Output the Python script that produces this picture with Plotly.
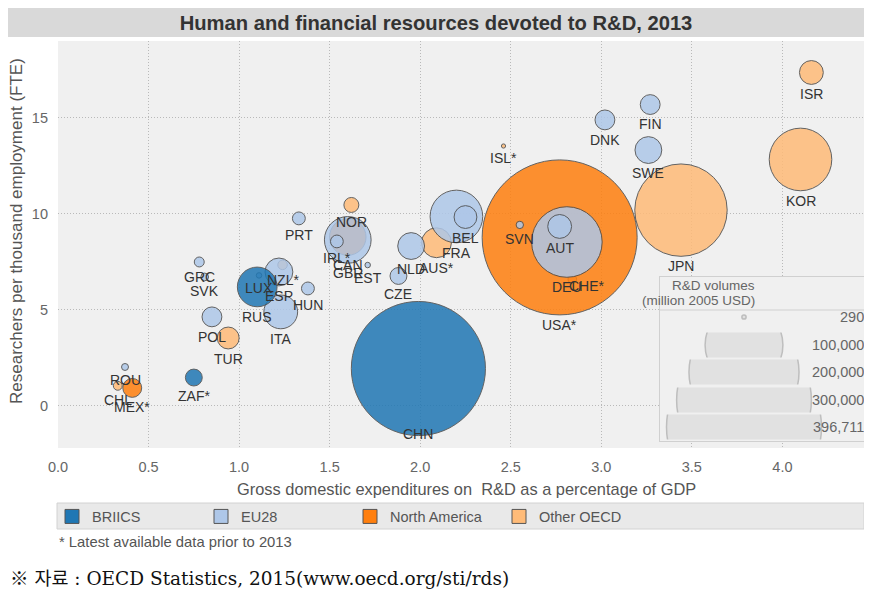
import math
import plotly.graph_objects as go

# ---------------- data ----------------
countries = ["CHN", "RUS", "ZAF*",
             "FIN", "DNK", "SWE", "BEL", "FRA", "SVN", "AUT", "DEU", "NLD", "CZE",
             "GBR", "IRL*", "EST", "PRT", "HUN", "ESP", "ITA", "LUX", "GRC", "SVK",
             "POL", "ROU",
             "USA*", "CAN", "MEX*",
             "ISR", "KOR", "JPN", "CHE*", "NOR", "AUS*", "NZL*", "TUR", "CHL", "ISL*"]
regions = ["BRIICS", "BRIICS", "BRIICS",
           "EU28", "EU28", "EU28", "EU28", "EU28", "EU28", "EU28", "EU28", "EU28", "EU28",
           "EU28", "EU28", "EU28", "EU28", "EU28", "EU28", "EU28", "EU28", "EU28", "EU28",
           "EU28", "EU28",
           "North America", "North America", "North America",
           "Other OECD", "Other OECD", "Other OECD", "Other OECD", "Other OECD",
           "Other OECD", "Other OECD", "Other OECD", "Other OECD", "Other OECD"]
gerd_pct = [1.99, 1.10, 0.75,
            3.27, 3.02, 3.26, 2.25, 2.20, 2.55, 2.77, 2.81, 1.95, 1.88,
            1.60, 1.54, 1.71, 1.33, 1.38, 1.22, 1.23, 1.11, 0.78, 0.81,
            0.85, 0.37,
            2.77, 1.60, 0.41,
            4.16, 4.10, 3.44, 2.84, 1.62, 2.09, 1.24, 0.94, 0.33, 2.46]
researchers = [1.95, 6.20, 1.48,
               15.70, 14.90, 13.33, 9.84, 9.87, 9.43, 9.35, 8.54, 8.33, 6.77,
               8.65, 8.57, 7.34, 9.77, 6.12, 6.98, 4.90, 6.80, 7.50, 6.72,
               4.64, 2.03,
               8.78, 8.80, 0.94,
               17.37, 12.84, 10.20, 6.60, 10.47, 8.50, 7.35, 3.54, 1.05, 13.54]
rd_volume = [297000, 26000, 4700,
             6500, 6500, 11900, 8600, 45800, 900, 9400, 82200, 11900, 4700,
             36000, 2700, 500, 2750, 2750, 12800, 18850, 500, 1630, 1000,
             6500, 800,
             396711, 22000, 5900,
             9400, 64700, 141000, 1200, 3700, 14700, 1500, 7900, 1300, 290]

region_names = ["BRIICS", "EU28", "North America", "Other OECD"]
region_colors = ["#1f77b4", "#aec7e8", "#ff7f0e", "#ffbb78"]
size_legend_values = [290, 100000, 200000, 300000, 396711]

# ---------------- layout geometry ----------------
# the page body has an 8px margin, so reference pixel p sits at figure pixel p - 8
OFF = 8
W, H = 872 - OFF, 601 - OFF
L, R, T, B = 58 - OFF, 8, 41 - OFF, 153
PW, PH = W - L - R, H - T - B
X_RANGE = [0, PW / 181.1]
Y_RANGE = [-2.19, 19.01]
MAX_D = 155.0
SIZEREF = 2.0 * max(size_legend_values) / MAX_D ** 2   # plotly: d = sqrt(2 v / sizeref)
FONT = "Liberation Sans, Arial, sans-serif"
GRID = dict(showgrid=True, gridcolor="#b9b9b9", griddash="1px,2px", gridwidth=1)


def px_x(p):
    """reference pixel (x) -> paper fraction"""
    return (p - OFF - L) / PW


def px_y(p):
    """reference pixel (y) -> paper fraction"""
    return (H - B - (p - OFF)) / PH


def diam(v):
    return math.sqrt(2.0 * v / SIZEREF)


fig = go.Figure()

# bubbles: draw Other OECD first, BRIICS last; large before small
for reg in reversed(region_names):
    idx = [i for i, r in enumerate(regions) if r == reg]
    idx.sort(key=lambda i: -rd_volume[i])
    fig.add_trace(go.Scatter(
        x=[gerd_pct[i] for i in idx],
        y=[researchers[i] for i in idx],
        text=[countries[i] for i in idx],
        mode="markers",
        marker=dict(size=[rd_volume[i] for i in idx], sizemode="area", sizeref=SIZEREF,
                    color=region_colors[region_names.index(reg)], opacity=0.85,
                    line=dict(color="#4a4a4a", width=1)),
        showlegend=False, hoverinfo="text", xaxis="x", yaxis="y"))

# legend entries (square swatches)
for name, col in zip(region_names, region_colors):
    fig.add_trace(go.Scatter(x=[None], y=[None], mode="markers", name=name,
                             marker=dict(symbol="square", size=14, color=col,
                                         line=dict(color="#555555", width=1))))

# labels under the bubbles
label_nudge = {"CHE*": (15, -8)}
annotations = []
for c, xv, yv, v in zip(countries, gerd_pct, researchers, rd_volume):
    py = T + (Y_RANGE[1] - yv) / (Y_RANGE[1] - Y_RANGE[0]) * PH
    ly = py + diam(v) / 2 + 10
    ly = min(ly, T + PH - 14)
    dx, dy = label_nudge.get(c, (0, 0))
    annotations.append(dict(x=xv, y=yv, xref="x", yref="y", text=c, showarrow=False,
                            xshift=dx, yshift=-(ly - py) - dy, yanchor="middle",
                            font=dict(family=FONT, size=14, color="#333333")))

# ---------------- size legend box ----------------
box_l, box_r, box_t, box_b = 660, 864, 277, 441
fig.add_trace(go.Scatter(x=[None], y=[None], xaxis="x2", yaxis="y2", showlegend=False,
                         hoverinfo="skip"))
row_centers = [317, 345, 372, 400, 427]
circle_cx = 744
axis_layout = {}
for k, (val, cy) in enumerate(zip(size_legend_values, row_centers)):
    n = k + 3
    fig.add_trace(go.Scatter(x=[0], y=[0], xaxis=f"x{n}", yaxis=f"y{n}", mode="markers",
                             marker=dict(size=[val], sizemode="area", sizeref=SIZEREF,
                                         color="#dadada",
                                         line=dict(color="#a8a8a8", width=1.5)),
                             showlegend=False, hoverinfo="skip"))
    axis_layout[f"xaxis{n}"] = dict(domain=[px_x(box_l + 1), 1.0],
                                   range=[-(circle_cx - box_l - 1), box_r - circle_cx],
                                   visible=False, anchor=f"y{n}", fixedrange=True)
    axis_layout[f"yaxis{n}"] = dict(domain=[px_y(cy + 12.5), px_y(cy - 12.5)],
                                   range=[-12.5, 12.5], visible=False, anchor=f"x{n}",
                                   fixedrange=True)
    annotations.append(dict(x=px_x(866), y=px_y(cy), xref="paper", yref="paper",
                            xanchor="right", yanchor="middle", showarrow=False,
                            text=f"{val:,}",
                            font=dict(family=FONT, size=14.5, color="#666666")))

annotations.append(dict(x=px_x(757), y=px_y(285), xref="paper", yref="paper",
                        yanchor="middle", showarrow=False, text="R&D volumes",
                        font=dict(family=FONT, size=13.5, color="#666666")))
annotations.append(dict(x=px_x(757), y=px_y(300), xref="paper", yref="paper",
                        yanchor="middle", showarrow=False, text="(million 2005 USD)",
                        font=dict(family=FONT, size=13.5, color="#666666")))

# axis titles (placed as in the reference)
annotations.append(dict(x=px_x(16), y=px_y(231), xref="paper", yref="paper",
                        xanchor="center", yanchor="middle", textangle=-90,
                        showarrow=False, text="Researchers per thousand employment (FTE)",
                        font=dict(family=FONT, size=17, color="#555555")))
annotations.append(dict(x=px_x(467), y=px_y(489), xref="paper", yref="paper",
                        xanchor="center", yanchor="middle", showarrow=False,
                        text="Gross domestic expenditures on  R&D as a percentage of GDP",
                        font=dict(family=FONT, size=16.4, color="#555555")))

# footnotes
annotations.append(dict(x=px_x(57), y=px_y(542), xref="paper", yref="paper",
                        xanchor="left", yanchor="middle", showarrow=False,
                        text="* Latest available data prior to 2013",
                        font=dict(family=FONT, size=14.8, color="#555555")))
annotations.append(dict(x=px_x(8), y=px_y(578), xref="paper", yref="paper",
                        xanchor="left", yanchor="middle", showarrow=False,
                        text="※ 자료 : OECD Statistics, 2015(www.oecd.org/sti/rds)",
                        font=dict(family="DejaVu Serif, Noto Sans CJK KR, serif",
                                  size=18.5, color="#111111")))

shapes = [
    # title band
    dict(type="rect", xref="paper", yref="paper", x0=px_x(8), x1=px_x(864),
         y0=px_y(37), y1=px_y(8), fillcolor="#d9d9d9", line=dict(width=0), layer="below"),
    # legend band
    dict(type="rect", xref="paper", yref="paper", x0=px_x(57), x1=px_x(864),
         y0=px_y(529), y1=px_y(503), fillcolor="#e9e9e9",
         line=dict(color="#d2d2d2", width=1), layer="below"),
    # separator in size legend
    dict(type="line", xref="paper", yref="paper", x0=px_x(box_l), x1=px_x(box_r),
         y0=px_y(310), y1=px_y(310), line=dict(color="#d0d0d0", width=1), layer="above"),
]

fig.update_layout(
    width=W, height=H,
    margin=dict(l=L, r=R, t=T, b=B, autoexpand=False),
    paper_bgcolor="white", plot_bgcolor="#f0f0f0",
    font=dict(family=FONT, color="#555555"),
    title=dict(text="Human and financial resources devoted to R&D, 2013",
               x=(436 - OFF) / W, xanchor="center", y=1 - (22.5 - OFF) / H,
               yanchor="middle",
               font=dict(family=FONT, size=20.2, color="#333333", weight="bold")),
    xaxis=dict(domain=[0, 1], range=X_RANGE, dtick=0.5, tick0=0, tickformat=".1f",
               zeroline=False, showline=False, ticks="", ticklabelstandoff=8,
               tickfont=dict(family=FONT, size=14.5, color="#666666"),
               fixedrange=True, **GRID),
    yaxis=dict(domain=[0, 1], range=Y_RANGE, dtick=5, tick0=0,
               zeroline=False, showline=False, ticks="", ticklabelstandoff=9,
               tickfont=dict(family=FONT, size=14.5, color="#666666"),
               fixedrange=True, **GRID),
    xaxis2=dict(domain=[px_x(box_l), 1.0], range=[0, 1], anchor="y2", showgrid=False,
                zeroline=False, showticklabels=False, ticks="", showline=True, mirror=True,
                linecolor="#d0d0d0", linewidth=1, fixedrange=True),
    yaxis2=dict(domain=[px_y(box_b), px_y(box_t)], range=[0, 1], anchor="x2",
                showgrid=False, zeroline=False, showticklabels=False, ticks="",
                showline=True, mirror=True, linecolor="#d0d0d0", linewidth=1,
                fixedrange=True),
    legend=dict(orientation="h", x=px_x(52), xanchor="left", y=px_y(516.5),
                yanchor="middle", bgcolor="rgba(0,0,0,0)", entrywidth=104,
                font=dict(family=FONT, size=14.5, color="#555555"),
                itemclick=False, itemdoubleclick=False),
    annotations=annotations,
    shapes=shapes,
    showlegend=True,
)
fig.update_layout(**axis_layout)

fig.write_html("out.html")
